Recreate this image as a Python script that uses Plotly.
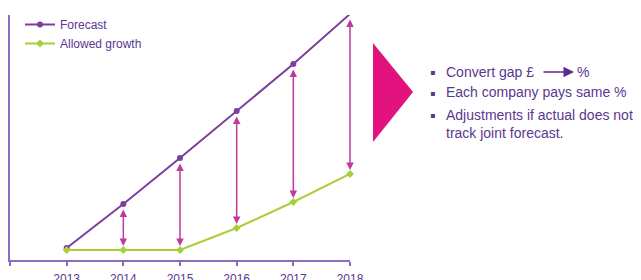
import plotly.graph_objects as go

years = [2013, 2014, 2015, 2016, 2017, 2018]
forecast = [12, 56, 102, 149, 196, 246]
allowed = [10, 10, 10, 32, 58, 86]
tick_years = [2012, 2013, 2014, 2015, 2016, 2017, 2018]
tick_text = ["", "2013", "2014", "2015", "2016", "2017", "2018"]
bullets = ["Convert gap £", "Each company pays same %",
           "Adjustments if actual does not<br>track joint forecast."]

W, H = 641, 280
OFF = 8  # page body margin
ML, MT, PW, PH = 10, 15, 340, 245

def px(x):
    return (x - ML) / PW

def py(y):
    return (MT + PH - y) / PH

PURPLE = "#7b3f9e"
GREEN = "#a9cf38"
ARROW = "#c0399f"
TEXT = "#5a3790"
AXIS = "#8a6cc0"

fig = go.Figure()
fig.add_trace(go.Scatter(x=years, y=forecast, name="Forecast", mode="lines+markers",
                         line=dict(color=PURPLE, width=2), marker=dict(color=PURPLE, size=6),
                         cliponaxis=False))
fig.add_trace(go.Scatter(x=years, y=allowed, name="Allowed growth", mode="lines+markers",
                         line=dict(color=GREEN, width=2),
                         marker=dict(color=GREEN, size=6, symbol="diamond"),
                         cliponaxis=False))

annotations = []
for yr, f, a in zip(years[1:], forecast[1:], allowed[1:]):
    annotations.append(dict(x=yr, y=a, ax=yr, ay=f, xref="x", yref="y", axref="x", ayref="y",
                            text="", showarrow=True, arrowhead=2, startarrowhead=2,
                            arrowside="end+start", arrowsize=1, arrowwidth=1.5,
                            arrowcolor=ARROW, standoff=4, startstandoff=4))

# bullet text
lines_y = [72, 92, 124]
for t, yy in zip(bullets, lines_y):
    annotations.append(dict(x=px(444), y=py(yy), xref="paper", yref="paper", text=t,
                            showarrow=False, xanchor="left", yanchor="middle", align="left",
                            font=dict(family="Liberation Sans, Arial", size=14, color=TEXT)))
for yy in [72, 92, 115]:
    annotations.append(dict(x=px(432), y=py(yy + 1), xref="paper", yref="paper", text="▪",
                            showarrow=False, xanchor="center", yanchor="middle",
                            font=dict(family="DejaVu Sans", size=8, color=TEXT)))
annotations.append(dict(x=px(575), y=py(72), xref="paper", yref="paper", text="%",
                        showarrow=False, xanchor="left", yanchor="middle",
                        font=dict(family="Liberation Sans, Arial", size=14, color=TEXT)))
annotations.append(dict(x=px(574), y=py(72), ax=-32, ay=0, xref="paper", yref="paper",
                        axref="pixel", ayref="pixel", text="", showarrow=True, arrowhead=2,
                        arrowsize=1.4, arrowwidth=1.5, arrowcolor="#5a2d8c"))

shapes = [dict(type="path", xref="paper", yref="paper",
               path=f"M {px(373)},{py(43)} L {px(413)},{py(92)} L {px(373)},{py(142)} Z",
               fillcolor="#e2127e", line=dict(width=0))]

FW, FH = W - OFF, H - OFF
fig.update_layout(
    width=FW, height=FH,
    margin=dict(l=ML - OFF, r=FW - (ML - OFF) - PW, t=MT - OFF, b=FH - (MT - OFF) - PH,
                autoexpand=False),
    paper_bgcolor="white", plot_bgcolor="white",
    showlegend=True,
    legend=dict(x=px(20), y=py(10), xanchor="left", yanchor="top", bgcolor="rgba(0,0,0,0)",
                font=dict(family="Liberation Sans, Arial", size=12, color=TEXT),
                tracegroupgap=0, itemwidth=30),
    xaxis=dict(range=[2012, 2018], tickvals=tick_years, ticktext=tick_text, showgrid=False,
               zeroline=False, showline=True, linecolor=AXIS, linewidth=1.5, ticks="outside",
               ticklen=4, tickcolor=AXIS, tickwidth=1.5, ticklabelstandoff=3, automargin=False,
               tickfont=dict(family="Liberation Sans, Arial", size=12, color=TEXT)),
    yaxis=dict(range=[0, 245], showgrid=False, zeroline=False, showline=True, linecolor=AXIS,
               linewidth=1.5, showticklabels=False, ticks="", automargin=False),
    annotations=annotations, shapes=shapes,
)
fig.write_html("out.html")
